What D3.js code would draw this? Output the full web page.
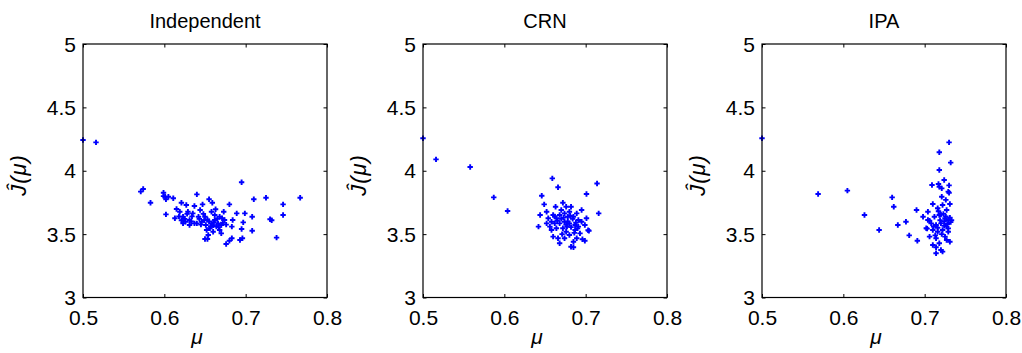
<!DOCTYPE html>
<html>
<head>
<meta charset="utf-8">
<script src="https://cdn.jsdelivr.net/npm/d3@7"></script>
<style>
  body { margin: 0; background: #fff; }
  svg text { font-family: "Liberation Sans", Arial, sans-serif; fill: #000; }
</style>
</head>
<body>
<div id="chart"></div>
<script>
// panel titles and tick values
const titles = ["Independent", "CRN", "IPA"];
const xTicks = [0.5, 0.6, 0.7, 0.8];
const yTicks = [3, 3.5, 4, 4.5, 5];

// Independent sampling: mu and J-hat(mu)
const indepMu = [0.500, 0.516, 0.571, 0.574, 0.583, 0.599, 0.599, 0.602, 0.611, 0.602, 0.601, 0.605,
  0.640, 0.695, 0.710, 0.725, 0.767, 0.746, 0.746, 0.730, 0.732, 0.738, 0.708, 0.708, 0.699, 0.697,
  0.695, 0.696, 0.693, 0.689, 0.684, 0.683, 0.676, 0.680, 0.683, 0.650, 0.653, 0.673, 0.680, 0.663,
  0.659, 0.655, 0.647, 0.637, 0.627, 0.621, 0.615, 0.613, 0.619, 0.623, 0.626, 0.631, 0.635, 0.642,
  0.640, 0.646, 0.650, 0.651, 0.652, 0.656, 0.658, 0.662, 0.666, 0.670, 0.670, 0.674, 0.668, 0.629,
  0.644, 0.658, 0.662, 0.623, 0.631, 0.637, 0.654, 0.660, 0.664, 0.668, 0.618, 0.625, 0.633, 0.655,
  0.660, 0.672, 0.665, 0.648, 0.643, 0.628, 0.653, 0.657, 0.661, 0.667, 0.671, 0.649, 0.645, 0.634,
  0.621, 0.676];
const indepJ = [4.243, 4.224, 3.835, 3.856, 3.748, 3.827, 3.800, 3.775, 3.783, 3.656, 3.795, 3.795,
  3.814, 3.909, 3.775, 3.787, 3.787, 3.735, 3.651, 3.617, 3.610, 3.472, 3.637, 3.527, 3.664, 3.593,
  3.540, 3.467, 3.454, 3.664, 3.611, 3.559, 3.422, 3.448, 3.467, 3.462, 3.462, 3.677, 3.735, 3.696,
  3.748, 3.775, 3.735, 3.722, 3.730, 3.748, 3.698, 3.625, 3.677, 3.637, 3.598, 3.611, 3.664, 3.637,
  3.585, 3.598, 3.637, 3.572, 3.533, 3.546, 3.585, 3.611, 3.585, 3.572, 3.506, 3.611, 3.637, 3.677,
  3.690, 3.677, 3.651, 3.585, 3.572, 3.585, 3.493, 3.519, 3.559, 3.533, 3.640, 3.620, 3.600, 3.600,
  3.570, 3.590, 3.620, 3.660, 3.620, 3.660, 3.615, 3.560, 3.595, 3.555, 3.625, 3.610, 3.575, 3.640,
  3.610, 3.575];

// common random numbers
const crnMu = [0.500, 0.516, 0.558, 0.587, 0.604, 0.659, 0.666, 0.646, 0.714, 0.701, 0.716, 0.642,
  0.703, 0.699, 0.685, 0.649, 0.663, 0.672, 0.676, 0.644, 0.652, 0.654, 0.660, 0.664, 0.668, 0.674,
  0.680, 0.685, 0.695, 0.691, 0.701, 0.699, 0.704, 0.691, 0.687, 0.680, 0.674, 0.668, 0.662, 0.658,
  0.656, 0.660, 0.666, 0.668, 0.676, 0.680, 0.685, 0.682, 0.689, 0.693, 0.696, 0.687, 0.672, 0.664,
  0.674, 0.678, 0.670, 0.682, 0.689, 0.695, 0.658, 0.652, 0.678, 0.684, 0.670, 0.676, 0.688, 0.682,
  0.665, 0.673, 0.681, 0.686, 0.662, 0.677, 0.690, 0.671];
const crnJ = [4.256, 4.090, 4.030, 3.790, 3.682, 3.940, 3.870, 3.803, 3.900, 3.817, 3.664, 3.559,
  3.530, 3.448, 3.396, 3.735, 3.716, 3.748, 3.716, 3.651, 3.677, 3.625, 3.651, 3.625, 3.651, 3.664,
  3.677, 3.637, 3.690, 3.611, 3.625, 3.572, 3.527, 3.559, 3.572, 3.585, 3.598, 3.585, 3.585, 3.598,
  3.559, 3.480, 3.467, 3.428, 3.519, 3.493, 3.440, 3.400, 3.467, 3.506, 3.460, 3.533, 3.546, 3.546,
  3.467, 3.637, 3.690, 3.716, 3.664, 3.598, 3.533, 3.585, 3.600, 3.620, 3.620, 3.575, 3.590, 3.555,
  3.605, 3.630, 3.645, 3.510, 3.640, 3.560, 3.545, 3.500];

// infinitesimal perturbation analysis
const ipaMu = [0.500, 0.569, 0.605, 0.626, 0.644, 0.660, 0.662, 0.667, 0.677, 0.681, 0.690, 0.691,
  0.698, 0.703, 0.706, 0.730, 0.718, 0.732, 0.718, 0.724, 0.709, 0.730, 0.718, 0.721, 0.730, 0.731,
  0.710, 0.704, 0.710, 0.714, 0.714, 0.722, 0.731, 0.717, 0.721, 0.729, 0.716, 0.722, 0.727, 0.712,
  0.718, 0.725, 0.729, 0.704, 0.708, 0.714, 0.720, 0.727, 0.702, 0.710, 0.716, 0.722, 0.729, 0.706,
  0.714, 0.725, 0.718, 0.727, 0.720, 0.724, 0.726, 0.728, 0.719, 0.723, 0.716, 0.731, 0.713, 0.721,
  0.726, 0.732, 0.724, 0.717, 0.729, 0.711, 0.733, 0.720];
const ipaJ = [4.256, 3.817, 3.843, 3.651, 3.533, 3.790, 3.716, 3.572, 3.598, 3.490, 3.690, 3.448,
  3.637, 3.543, 3.606, 4.224, 4.146, 4.064, 4.006, 3.927, 3.888, 3.885, 3.874, 3.795, 3.827, 3.738,
  3.738, 3.677, 3.414, 3.396, 3.349, 3.362, 3.440, 3.895, 3.861, 3.835, 3.704, 3.730, 3.690, 3.637,
  3.651, 3.625, 3.611, 3.611, 3.585, 3.572, 3.585, 3.559, 3.546, 3.533, 3.519, 3.533, 3.519, 3.480,
  3.467, 3.480, 3.428, 3.454, 3.375, 3.600, 3.640, 3.580, 3.610, 3.660, 3.550, 3.630, 3.490, 3.500,
  3.770, 3.595, 3.565, 3.680, 3.545, 3.560, 3.610, 3.655];

const series = [[indepMu, indepJ], [crnMu, crnJ], [ipaMu, ipaJ]];

const W = 1022, H = 353;
const panelLeft = [83, 423, 762];
const pw = 244, plotTop = 44, plotBottom = 297.5;

const svg = d3.select("#chart").append("svg")
  .attr("width", W).attr("height", H);
svg.append("rect").attr("width", W).attr("height", H).attr("fill", "#fff");

series.forEach(([mu, J], i) => {
  const ph = plotBottom - plotTop;
  const x = d3.scaleLinear().domain([0.5, 0.8]).range([0, pw]);
  const y = d3.scaleLinear().domain([3, 5]).range([ph, 0]);
  const g = svg.append("g").attr("transform", `translate(${panelLeft[i]},${plotTop})`);

  // markers (plus signs)
  const pts = d3.zip(mu, J);
  g.selectAll(".pt").data(pts).enter().append("path")
    .attr("class", "pt")
    .attr("d", d => `M${x(d[0]) - 2.7},${y(d[1])}h5.4M${x(d[0])},${y(d[1]) - 2.7}v5.4`)
    .attr("stroke", "#0000ff").attr("stroke-width", 1.9).attr("fill", "none");

  // axes, ticks inward on all four sides
  const tl = 3.5;
  const ax = d3.axisBottom(x).tickValues(xTicks).tickSize(-tl).tickFormat(d3.format(".1f"));
  const ay = d3.axisLeft(y).tickValues(yTicks).tickSize(-tl).tickFormat(d => d);
  const xa = g.append("g").attr("transform", `translate(0,${ph})`).call(ax);
  const ya = g.append("g").call(ay);
  g.append("g").call(d3.axisTop(x).tickValues(xTicks).tickSize(-tl).tickFormat(""));
  g.append("g").attr("transform", `translate(${pw},0)`)
    .call(d3.axisRight(y).tickValues(yTicks).tickSize(-tl).tickFormat(""));
  g.selectAll(".domain").remove();
  g.selectAll(".tick line").attr("stroke", "#000").attr("stroke-width", 1);
  g.append("rect").attr("width", pw).attr("height", ph)
    .attr("fill", "none").attr("stroke", "#000").attr("stroke-width", 1.2);

  xa.selectAll("text").attr("font-size", 21).attr("dy", null).attr("y", 27)
    .attr("font-family", "Liberation Sans, Arial, sans-serif");
  ya.selectAll("text").attr("font-size", 21).attr("x", -7).attr("dy", "0.34em")
    .attr("font-family", "Liberation Sans, Arial, sans-serif");

  // title
  g.append("text").attr("x", pw / 2).attr("y", -16)
    .attr("text-anchor", "middle").attr("font-size", 20).text(titles[i]);

  // x label
  g.append("text").attr("x", pw / 2 - 8).attr("y", ph + 46)
    .attr("text-anchor", "middle").attr("font-size", 21)
    .attr("font-family", "Liberation Serif, serif").attr("font-style", "italic")
    .text("μ");

  // y label
  g.append("text").attr("transform", `translate(-57,${131}) rotate(-90)`)
    .attr("text-anchor", "middle").attr("font-size", 22)
    .attr("font-family", "Liberation Serif, serif").attr("font-style", "italic")
    .attr("letter-spacing", 1)
    .text("Ĵ(μ)");
});
</script>
</body>
</html>
